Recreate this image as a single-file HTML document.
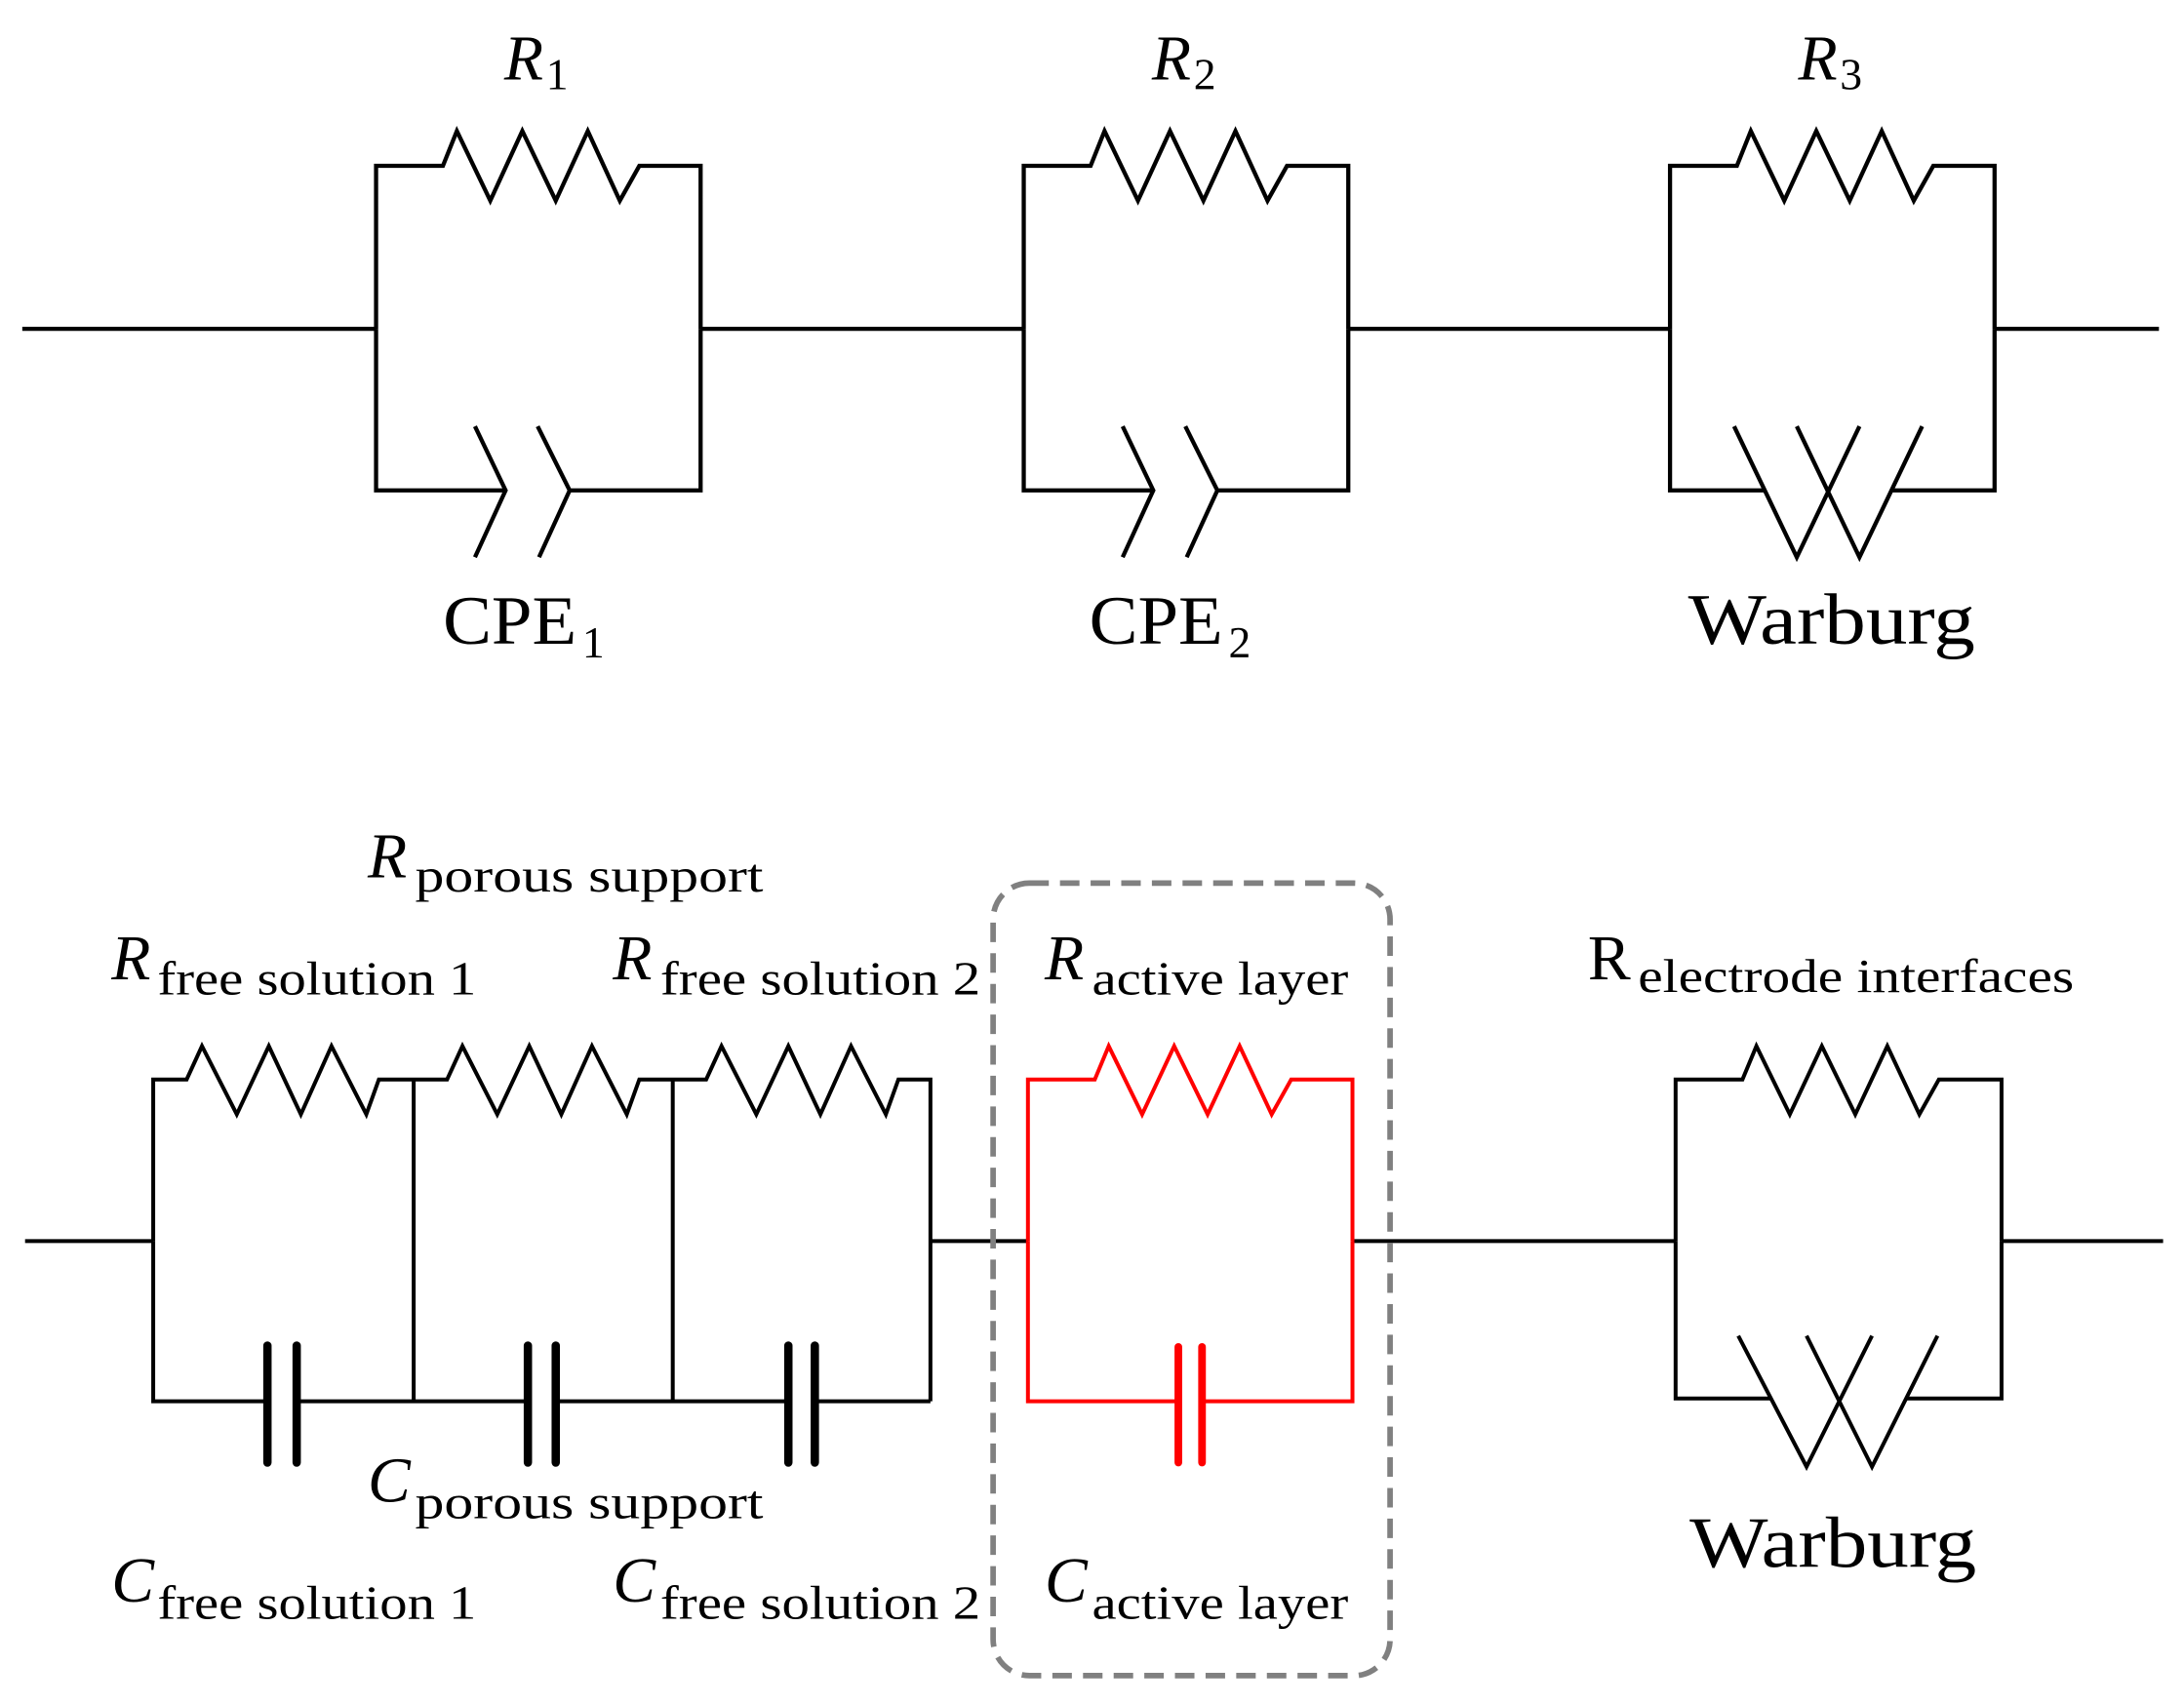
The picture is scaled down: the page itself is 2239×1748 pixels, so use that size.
<!DOCTYPE html>
<html><head><meta charset="utf-8"><style>
html,body{margin:0;padding:0;background:#fff;}
svg{display:block;}
text{font-family:"Liberation Serif",serif;fill:#000;}
</style></head><body>
<svg width="2239" height="1748" viewBox="0 0 1568 1224" xmlns="http://www.w3.org/2000/svg">
<g fill="none" stroke="#000" stroke-width="3" stroke-linejoin="miter">
<!-- top row -->
<path d="M16,236 H270 M503,236 H735 M968,236 H1199 M1432,236 H1550"/>
<!-- box1 -->
<path d="M270,236 V119 H318 L328,94 L352,144 L375,94 L399,144 L422,94 L445,144 L459,119 H503 V236"/>
<path d="M270,236 V352 H363 M409,352 H503 V236"/>
<path d="M341,306 L363,352 L341,400 M386,306 L409,352 L387,400"/>
<!-- box2 -->
<path d="M735,236 V119 H783 L793,94 L817,144 L840,94 L864,144 L887,94 L910,144 L924,119 H968 V236"/>
<path d="M735,236 V352 H828 M874,352 H968 V236"/>
<path d="M806,306 L828,352 L806,400 M851,306 L874,352 L852,400"/>
<!-- box3 -->
<path d="M1199,236 V119 H1247 L1257,94 L1281,144 L1304,94 L1328,144 L1351,94 L1374,144 L1388,119 H1432 V236"/>
<path d="M1199,236 V352 H1267 M1358,352 H1432 V236"/>
<path d="M1245,306 L1290,400 L1335,306 M1290,306 L1335,400 L1380,306"/>
</g>
<g fill="none" stroke="#000" stroke-width="2.8">
<line x1="18" y1="891" x2="110" y2="891"/>
<line x1="668" y1="891" x2="738" y2="891"/>
<line x1="971" y1="891" x2="1203" y2="891"/>
<line x1="1437" y1="891" x2="1553" y2="891"/>
<path d="M110,891 V775 H134 L145,751 L170,800 L193,751 L216,800 L238,751 L263,800 L272,775 H297 L321,775 L332,751 L357,800 L380,751 L403,800 L425,751 L450,800 L459,775 H483 L507,775 L518,751 L543,800 L566,751 L589,800 L611,751 L636,800 L645,775 H668 V1006"/>
<path d="M110,891 V1006 H192 M214,1006 H378 M400,1006 H565 M587,1006 H668"/>
<line x1="297" y1="775" x2="297" y2="1006"/>
<line x1="483" y1="775" x2="483" y2="1006"/>
<path d="M1203,891 V775 H1251 L1261,751 L1285,800 L1308,751 L1332,800 L1355,751 L1378,800 L1392,775 H1437 V891"/>
<path d="M1203,891 V1004 H1271 M1368,1004 H1437 V891"/>
<path d="M1248,959 L1297,1053 L1344,959 M1297,959 L1344,1053 L1391,959"/>
</g>
<g stroke="#000" stroke-width="6" stroke-linecap="round">
<line x1="192" y1="966" x2="192" y2="1050"/><line x1="213" y1="966" x2="213" y2="1050"/>
<line x1="379" y1="966" x2="379" y2="1050"/><line x1="399" y1="966" x2="399" y2="1050"/>
<line x1="566" y1="966" x2="566" y2="1050"/><line x1="585" y1="966" x2="585" y2="1050"/>
</g>
<g fill="none" stroke="#ff0000" stroke-width="2.8">
<path d="M738,891 V775 H786 L796,751 L820,800 L843,751 L867,800 L890,751 L913,800 L927,775 H971 V891"/>
<path d="M738,891 V1006 H846 M863,1006 H971 V891"/>
</g>
<g stroke="#ff0000" stroke-width="5.5" stroke-linecap="round">
<line x1="846" y1="967" x2="846" y2="1050"/><line x1="863" y1="967" x2="863" y2="1050"/>
</g>
<rect x="713" y="634" width="285" height="569" rx="26" ry="26" fill="none" stroke="#808080" stroke-width="4" stroke-dasharray="14 8"/>
<text x="362" y="57" font-size="46" font-style="italic">R</text><text x="392" y="64" font-size="32">1</text>
<text x="827" y="57" font-size="46" font-style="italic">R</text><text x="857" y="64" font-size="32">2</text>
<text x="1291" y="57" font-size="46" font-style="italic">R</text><text x="1321" y="64" font-size="32">3</text>
<text x="318" y="462" font-size="50" textLength="96" lengthAdjust="spacingAndGlyphs">CPE</text><text x="418" y="472" font-size="32">1</text>
<text x="782" y="462" font-size="50" textLength="96" lengthAdjust="spacingAndGlyphs">CPE</text><text x="882" y="472" font-size="32">2</text>
<text x="1212" y="462" font-size="52" textLength="206" lengthAdjust="spacingAndGlyphs">Warburg</text>
<text x="264" y="630" font-size="46" font-style="italic">R</text><text x="298" y="640" font-size="34" textLength="250" lengthAdjust="spacingAndGlyphs">porous support</text>
<text x="80" y="703" font-size="46" font-style="italic">R</text><text x="113" y="714" font-size="34" textLength="229" lengthAdjust="spacingAndGlyphs">free solution 1</text>
<text x="440" y="703" font-size="46" font-style="italic">R</text><text x="474" y="714" font-size="34" textLength="230" lengthAdjust="spacingAndGlyphs">free solution 2</text>
<text x="750" y="703" font-size="46" font-style="italic">R</text><text x="784" y="714" font-size="34" textLength="184" lengthAdjust="spacingAndGlyphs">active layer</text>
<text x="1140" y="703" font-size="46">R</text><text x="1176" y="712" font-size="34" textLength="313" lengthAdjust="spacingAndGlyphs">electrode interfaces</text>
<text x="264" y="1078" font-size="46" font-style="italic">C</text><text x="298" y="1090" font-size="34" textLength="250" lengthAdjust="spacingAndGlyphs">porous support</text>
<text x="80" y="1150" font-size="46" font-style="italic">C</text><text x="113" y="1162" font-size="34" textLength="229" lengthAdjust="spacingAndGlyphs">free solution 1</text>
<text x="440" y="1150" font-size="46" font-style="italic">C</text><text x="474" y="1162" font-size="34" textLength="230" lengthAdjust="spacingAndGlyphs">free solution 2</text>
<text x="750" y="1150" font-size="46" font-style="italic">C</text><text x="784" y="1162" font-size="34" textLength="184" lengthAdjust="spacingAndGlyphs">active layer</text>
<text x="1213" y="1125" font-size="52" textLength="206" lengthAdjust="spacingAndGlyphs">Warburg</text>
</svg>
</body></html>
